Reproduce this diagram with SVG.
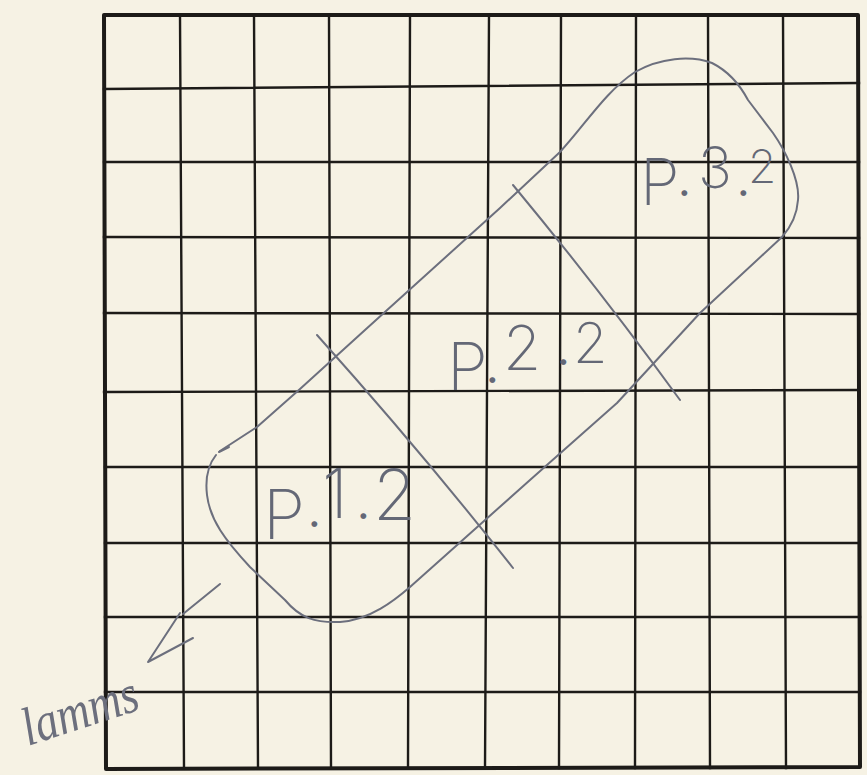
<svg xmlns="http://www.w3.org/2000/svg" width="867" height="775" viewBox="0 0 867 775">
<style>
.g{stroke:#1d1b18;stroke-width:2.4;fill:none;stroke-linecap:square}
.b{stroke:#1d1b18;stroke-width:4;fill:none;stroke-linejoin:round}
.pen{stroke:#6c6f7d;stroke-width:2;fill:none;stroke-linecap:round;stroke-linejoin:round}
.hw{fill:#646876;font-family:Inter,"Liberation Sans",sans-serif;font-weight:200}
.dot{font-size:44px;font-weight:400}
.cur{fill:#6c6f7d;font-family:"Liberation Serif",serif;font-style:italic}
</style>
<rect width="867" height="775" fill="#f6f2e4"/>
<g id="grid">
<path class="g" d="M180,15 L184,768 M254,15 L258,768 M329,15 L331,768 M410,15 L408,768 M489,15 L485,768 M561,15 L559,768 M636,15 L635,768 M708,15 L710,768 M783,15 L786,768"/>
<path class="g" d="M104,89 L859,83 M104,162 L859,162 M104,237 L859,238 M104,313 L859,314 M104,392 L859,390 M105,467 L859,467 M105,543 L859,543 M105,617 L860,617 M105,692 L860,692"/>
<path class="b" d="M104,15 L858,15 L860,767 L106,769 Z"/>
</g>
<g id="connectors">
<path id="outline" class="pen" d="M220,451 L257,427 L300,389 L365,330 L500,208 L560,152 C585,125 605,92 635,72 C660,58 690,55 712,63 C730,72 740,85 748,100 L773,133 C785,150 800,180 798,200 C797,215 790,228 782,237 L700,313 L617,403 L530,480 L410,587 C395,600 370,620 340,622 C315,623 300,618 285,600 L250,567 C225,540 210,520 207,495 C205,478 208,465 216,455"/>
<path class="pen" d="M219,452 L229,447"/>
<path id="div1" class="pen" d="M317,335 Q420,450 513,568"/>
<path id="div2" class="pen" d="M513,185 Q600,290 680,400"/>
<path id="arrow" class="pen" d="M220,584 L183,614 M180,613 L148,662 L193,638"/>
</g>
<g id="p12">
<text class="hw" font-size="68"><tspan x="263" y="539" font-size="68">P</tspan><tspan class="dot" x="308" y="527">.</tspan><tspan x="322" y="518">1</tspan><tspan class="dot" x="357" y="519">.</tspan><tspan x="373" y="520" font-size="70">2</tspan></text>
</g>
<g id="p22">
<text class="hw" font-size="62"><tspan x="447" y="390" font-size="66">P</tspan><tspan class="dot" x="486" y="383">.</tspan><tspan x="503" y="370">2</tspan><tspan class="dot" x="557" y="365">.</tspan><tspan x="573" y="363" font-size="56">2</tspan></text>
</g>
<g id="p32">
<text class="hw" font-size="57"><tspan x="640" y="205" font-size="64">P</tspan><tspan class="dot" x="678" y="196">.</tspan><tspan x="698" y="188">3</tspan><tspan class="dot" x="737" y="196">.</tspan><tspan x="748" y="183" font-size="46">2</tspan></text>
</g>
<g id="label">
<text class="cur" x="28" y="746" font-size="54" textLength="120" lengthAdjust="spacingAndGlyphs" transform="rotate(-18 28 746)">lamms</text>
</g>
</svg>
